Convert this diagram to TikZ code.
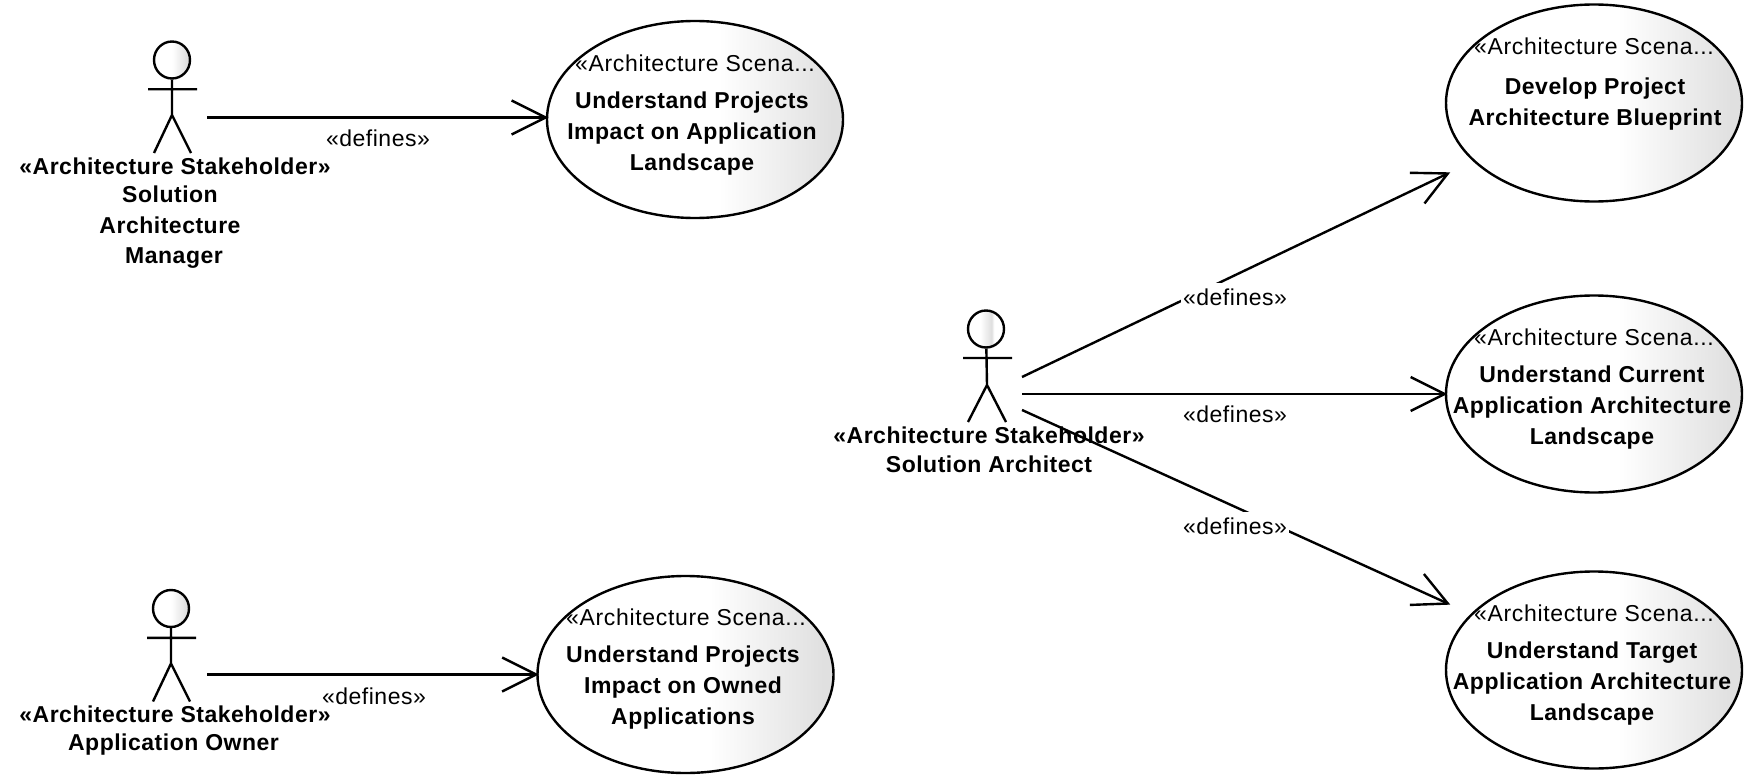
\documentclass[tikz,border=0pt]{standalone}
\usepackage{fontspec}
\setmainfont[LetterSpace=2.2]{Liberation Sans}
\newfontfamily\stereofont[LetterSpace=2.9]{Liberation Sans}
\usetikzlibrary{arrows.meta,shapes.geometric}
\pgfdeclarehorizontalshading{ucshade}{100bp}{color(0bp)=(white);color(54bp)=(white);color(73bp)=(black!12);color(100bp)=(black!12)}
\pgfdeclarehorizontalshading{headshadea}{100bp}{color(0bp)=(white);color(42bp)=(white);color(58bp)=(black!13);color(61bp)=(white);color(100bp)=(white)}
\pgfdeclarehorizontalshading{headshadeb}{100bp}{color(0bp)=(white);color(50bp)=(white);color(70bp)=(black!12);color(100bp)=(black!12)}
\tikzset{
 x=1pt,y=-1pt,
 usecase/.style={ellipse,draw=black,shading=ucshade,minimum width=296pt,minimum height=197pt,inner sep=0pt},
 head/.style={ellipse,draw=black,minimum width=36pt,minimum height=37pt,inner sep=0pt},
 assoc/.style={draw=black,shorten >=-2.5pt,-{Straight Barb[length=34pt,width=34pt,line width=2.4pt]}},
 stereo/.style={font=\stereofont\fontsize{23}{23}\selectfont,inner sep=0pt},
 title/.style={font=\fontsize{23}{31}\selectfont\bfseries,align=center,inner sep=0pt},
 deflabel/.style={font=\fontsize{23}{23}\selectfont,fill=white,inner sep=0pt,minimum width=108pt,minimum height=28pt},
 actorname/.style={font=\fontsize{23}{23}\selectfont\bfseries,align=center,inner sep=0pt},
}
\begin{document}
\begin{tikzpicture}[line width=2.4pt]
\useasboundingbox (0,0) rectangle (1754,784);
% use cases
\node[usecase] (E1) at (695,119.5) {};
\node[usecase] (E2) at (1594,103) {};
\node[usecase] (E3) at (1594,394) {};
\node[usecase] (E4) at (1594,670) {};
\node[usecase] (E5) at (685.5,674.5) {};
\node[stereo] (E1s) at (695,63) {«Architecture Scena...};
\node[stereo] (E2s) at (1594,46) {«Architecture Scena...};
\node[stereo] (E3s) at (1594,337) {«Architecture Scena...};
\node[stereo] (E4s) at (1594,613) {«Architecture Scena...};
\node[stereo] (E5s) at (686,617.5) {«Architecture Scena...};
\node[title] (E1t) at (692,133.5) {Understand Projects\\Impact on Application\\Landscape};
\node[title] (E2t) at (1595,104) {Develop Project\\Architecture Blueprint};
\node[title] (E3t) at (1592,407.5) {Understand Current\\Application Architecture\\Landscape};
\node[title] (E4t) at (1592,683.5) {Understand Target\\Application Architecture\\Landscape};
\node[title] (E5t) at (683,688) {Understand Projects\\Impact on Owned\\Applications};
% actor 1
\node[head,shading=headshadeb] (H1) at (172,60) {};
\coordinate (H1h) at (172,115);
\coordinate (H1l) at (148,89.3);
\coordinate (H1r) at (197,89.3);
\coordinate (H1a) at (154,153);
\coordinate (H1b) at (191,153);
\draw (H1) -- (H1h) (H1l) -- (H1r) (H1a) -- (H1h) -- (H1b);
\node[actorname] (N1a) at (175,166.5) {«Architecture Stakeholder»};
\node[actorname] (N1b) at (170,194) {Solution};
\node[actorname] (N1c) at (170,225) {Architecture};
\node[actorname] (N1d) at (174,258) {Manager};
% actor 2
\node[head,shading=headshadeb] (H2) at (171,608.5) {};
\coordinate (H2h) at (171,663.5);
\coordinate (H2l) at (147,637.8);
\coordinate (H2r) at (196,637.8);
\coordinate (H2a) at (153,701.5);
\coordinate (H2b) at (190,701.5);
\draw (H2) -- (H2h) (H2l) -- (H2r) (H2a) -- (H2h) -- (H2b);
\node[actorname] (N2a) at (175,714) {«Architecture Stakeholder»};
\node[actorname] (N2b) at (173.5,745) {Application Owner};
% actor 3
\node[head,shading=headshadea] (H3) at (986,329) {};
\coordinate (H3h) at (987,385);
\coordinate (H3l) at (963,358);
\coordinate (H3r) at (1012,358);
\coordinate (H3a) at (968,422);
\coordinate (H3b) at (1006,422);
\draw (H3) -- (H3h) (H3l) -- (H3r) (H3a) -- (H3h) -- (H3b);
\node[actorname] (N3a) at (989,435.7) {«Architecture Stakeholder»};
\node[actorname] (N3b) at (989,464) {Solution Architect};
% connectors
\coordinate (S1) at (207,117.5);
\coordinate (S2) at (207,674.5);
\coordinate (S3a) at (1022,377);
\coordinate (S3b) at (1022,394);
\coordinate (S3c) at (1022,410);
\coordinate (T3a) at (1448,173.4);
\coordinate (T3c) at (1448,603.6);
\draw[assoc] (S1) -- (S1 -| E1.west);
\draw[assoc] (S2) -- (E5);
\draw[assoc] (S3a) -- (T3a);
\draw[assoc] (S3b) -- (E3);
\draw[assoc] (S3c) -- (T3c);
\node[deflabel] (L1) at (378,138) {«defines»};
\node[deflabel] (L2) at (374,696) {«defines»};
\node[deflabel] (L3) at (1235,297) {«defines»};
\node[deflabel] (L4) at (1235,414) {«defines»};
\node[deflabel] (L5) at (1235,526) {«defines»};
\end{tikzpicture}
\end{document}
